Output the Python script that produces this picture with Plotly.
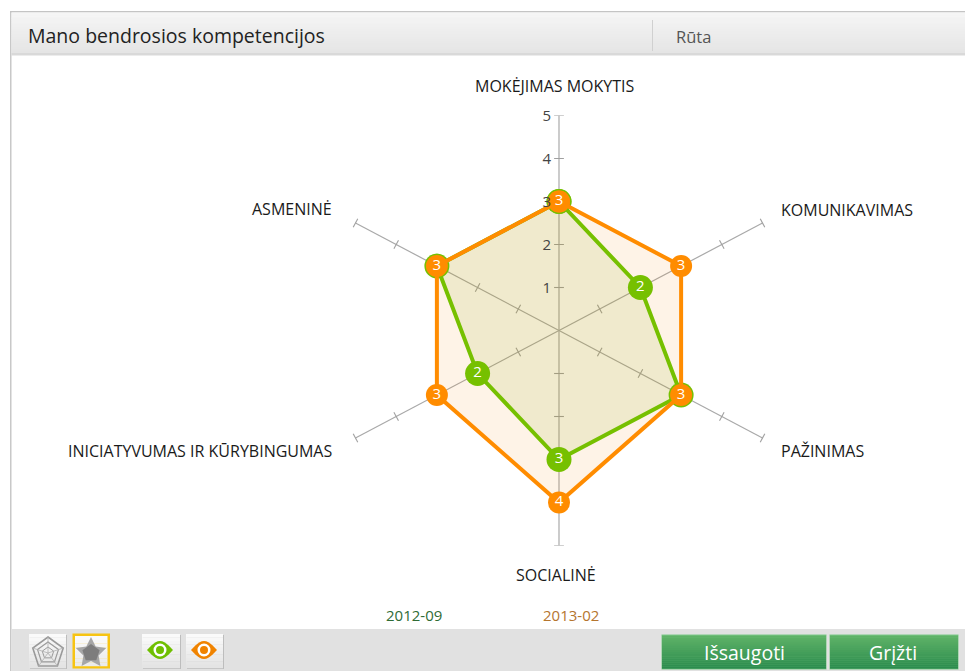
import math
import plotly.graph_objects as go

W, H = 965, 671
FONT = "Open Sans"

title_text = "Mano bendrosios kompetencijos"
user_name = "Rūta"
categories = ["MOKĖJIMAS MOKYTIS", "KOMUNIKAVIMAS", "PAŽINIMAS", "SOCIALINĖ",
              "INICIATYVUMAS IR KŪRYBINGUMAS", "ASMENINĖ"]
series_2012 = [3, 2, 3, 3, 2, 3]
series_2013 = [3, 3, 3, 4, 3, 3]
name_2012 = "2012-09"
name_2013 = "2013-02"
scale_ticks = [1, 2, 3, 4, 5]
button_labels = ["Išsaugoti", "Grįžti"]

# spoke directions, clockwise from the top
angles = [math.radians(i * 360 / len(categories)) for i in range(len(categories))]
CX, CY = 559, 330.5
UX, UY = 47.0, 43.0      # pixels per data unit (the picture is stretched sideways)


def to_xy(values):
    xs = [v * math.sin(a) for v, a in zip(values, angles)]
    ys = [v * math.cos(a) for v, a in zip(values, angles)]
    return xs + xs[:1], ys + ys[:1]


def px(x):
    return x / W


def py(y):
    return 1 - y / H


shapes = []


def rect(x0, y0, x1, y1, fill, line=None, lw=1):
    shapes.append(dict(type="rect", xref="paper", yref="paper", x0=px(x0), x1=px(x1),
                       y0=py(y0), y1=py(y1), fillcolor=fill, layer="below",
                       line=dict(color=line or "rgba(0,0,0,0)", width=lw if line else 0)))


def path(points, fill="rgba(0,0,0,0)", line=None, lw=1, close=True):
    d = "M " + " L ".join(f"{px(a):.5f},{py(b):.5f}" for a, b in points) + (" Z" if close else "")
    shapes.append(dict(type="path", xref="paper", yref="paper", path=d, fillcolor=fill,
                       layer="above", line=dict(color=line or "rgba(0,0,0,0)", width=lw if line else 0)))


def mix(c0, c1, t):
    return "rgb(" + ",".join(str(round(a + (b - a) * t)) for a, b in zip(c0, c1)) + ")"


def gradient(x0, y0, x1, y1, c0, c1, layer_steps=None):
    steps = layer_steps or int(y1 - y0)
    for i in range(steps):
        t = i / max(steps - 1, 1)
        a = y0 + (y1 - y0) * i / steps
        b = y0 + (y1 - y0) * (i + 1) / steps
        rect(x0, a, x1, b + 0.3, mix(c0, c1, t))


def eye(cx, cy, color):
    top = [(cx - 13 + 26 * i / 12, cy - 9 * math.sin(math.pi * i / 12)) for i in range(13)]
    bot = [(cx + 13 - 26 * i / 12, cy + 9 * math.sin(math.pi * i / 12)) for i in range(13)]
    path(top + bot, fill=color)
    shapes.append(dict(type="circle", xref="paper", yref="paper", x0=px(cx - 6.5), x1=px(cx + 6.5),
                       y0=py(cy + 6.5), y1=py(cy - 6.5), fillcolor="white", line=dict(width=0)))
    shapes.append(dict(type="circle", xref="paper", yref="paper", x0=px(cx - 4), x1=px(cx + 4),
                       y0=py(cy + 4), y1=py(cy - 4), fillcolor=color, line=dict(width=0)))


def pentagon(cx, cy, r):
    return [(cx + r * math.sin(2 * math.pi * i / 5), cy - r * math.cos(2 * math.pi * i / 5)) for i in range(5)]


def star(cx, cy, r_out, r_in):
    pts = []
    for i in range(10):
        r = r_out if i % 2 == 0 else r_in
        a = math.pi * i / 5
        pts.append((cx + r * math.sin(a), cy - r * math.cos(a)))
    return pts


# page frame: left rule, header band, footer band
rect(10, 11, 11.5, 671, "#c8c8c8")
rect(10, 11, 965, 12.5, "#c4c4c4")
gradient(11.5, 12.5, 965, 53, (245, 245, 245), (229, 229, 229), 20)
rect(11.5, 53, 965, 55.5, "#d9d9d9")
rect(652, 20, 653, 51, "#d0d0d0")
rect(11.5, 629, 965, 671, "#e1e1e1")

# icon buttons
for x0, x1 in [(29, 66), (142, 180), (186, 223)]:
    rect(x0 + 1, 635, x1 + 1, 669, "#bdbdbd")
    gradient(x0, 634, x1, 668, (250, 250, 250), (228, 228, 228), 10)
rect(72.5, 633.5, 110, 668.5, "#f7c412")
gradient(75, 636, 107.5, 666, (250, 250, 250), (235, 235, 235), 8)

for r, lw in [(16, 1.6), (11, 1.2), (6, 1.0)]:
    path(pentagon(48, 653, r), line="#9a9a9a", lw=lw)
for i in range(5):
    a = 2 * math.pi * i / 5
    path([(48, 653), (48 + 16 * math.sin(a), 653 - 16 * math.cos(a))], line="#b0b0b0", lw=0.8, close=False)
path(star(91, 653, 16, 8), fill="#a6a6a6")
path(pentagon(91, 653, 9), fill="#7d7d7d")
eye(160, 650, "#6fbf00")
eye(204, 650, "#f08300")

# action buttons
for x0, x1 in [(662, 826), (830, 958)]:
    rect(x0 - 0.5, 634.5, x1 + 0.5, 669.5, "#7fc98a")
    gradient(x0, 635.5, x1, 668.5, (94, 178, 103), (44, 140, 78), 16)

# spokes and their tick marks
spoke_x, spoke_y, tick_x, tick_y, tick_a = [], [], [], [], []
for a in angles:
    sx, sy = math.sin(a), math.cos(a)
    spoke_x += [0, 5 * sx, None]
    spoke_y += [0, 5 * sy, None]
    screen = math.degrees(math.atan2(sx * UX, sy * UY))
    for t in scale_ticks:
        tick_x.append(t * sx)
        tick_y.append(t * sy)
        tick_a.append(screen)

gx, gy = to_xy(series_2012)
ox, oy = to_xy(series_2013)

fig = go.Figure()
fig.add_trace(go.Scatter(x=spoke_x, y=spoke_y, mode="lines", line=dict(color="#a9a9a9", width=1.2),
                         hoverinfo="skip", showlegend=False))
fig.add_trace(go.Scatter(x=tick_x, y=tick_y, mode="markers", hoverinfo="skip", showlegend=False,
                         marker=dict(symbol="line-ew", size=7, angle=tick_a,
                                     line=dict(color="#a0a0a0", width=1.1))))
# area fills first, so that neither tints the other series' outline
fig.add_trace(go.Scatter(x=ox, y=oy, mode="none", fill="toself", hoverinfo="skip",
                         fillcolor="rgba(245,140,20,0.10)", showlegend=False))
fig.add_trace(go.Scatter(x=gx, y=gy, mode="none", fill="toself", hoverinfo="skip",
                         fillcolor="rgba(130,165,0,0.11)", showlegend=False))
fig.add_trace(go.Scatter(x=gx, y=gy, name=name_2012, mode="lines+markers+text",
                         line=dict(color="#76c000", width=4),
                         marker=dict(color="#76c000", size=25),
                         text=[str(v) for v in series_2012] + [""], textposition="middle center",
                         textfont=dict(color="white", size=15, family=FONT), showlegend=False))
fig.add_trace(go.Scatter(x=ox, y=oy, name=name_2013, mode="lines+markers+text",
                         line=dict(color="#ff8c00", width=4),
                         marker=dict(color="#ff8c00", size=22),
                         text=[str(v) for v in series_2013] + [""], textposition="middle center",
                         textfont=dict(color="white", size=15, family=FONT), showlegend=False))


def label(text, x, y, anchor="left", size=16, color="#1a1a1a"):
    return dict(text=text, x=px(x), y=py(y), xref="paper", yref="paper", showarrow=False,
                xanchor=anchor, yanchor="middle", font=dict(size=size, color=color, family=FONT))


annotations = [
    label(title_text, 26, 35, size=19.5, color="#222222"),
    label(user_name, 674, 36.5, size=16.5, color="#555555"),
    label(categories[0], 555, 86, "center"),
    label(categories[1], 779, 210),
    label(categories[2], 779, 451),
    label(categories[3], 555.5, 575, "center"),
    label(categories[4], 334, 451, "right"),
    label(categories[5], 334, 209, "right"),
    label(name_2012, 413.5, 615, "center", size=15, color="#2f6b35"),
    label(name_2013, 570.5, 615, "center", size=15, color="#b5752e"),
    label(button_labels[0], 744, 652, "center", size=19.5, color="white"),
    label(button_labels[1], 893, 652, "center", size=19.5, color="white"),
]

fig.update_layout(
    width=W, height=H, margin=dict(l=0, r=0, t=0, b=0, pad=0, autoexpand=False), autosize=False,
    paper_bgcolor="white", plot_bgcolor="rgba(0,0,0,0)", showlegend=False,
    shapes=shapes, annotations=annotations,
    xaxis=dict(domain=[px(CX - 5 * UX), px(CX + 5 * UX)],
               range=[-5, 5], visible=False, fixedrange=True),
    yaxis=dict(domain=[py(CY + 5 * UY), py(CY - 5 * UY)], range=[-5, 5],
               anchor="free", position=px(CX), showgrid=False, zeroline=False, showline=False,
               tickmode="array", tickvals=scale_ticks, ticktext=[str(t) for t in scale_ticks],
               ticks="outside", ticklen=5, tickcolor="rgba(0,0,0,0)",
               tickfont=dict(size=15, color="#444444", family=FONT), fixedrange=True),
)

page_fix = ("document.body.style.margin='0';"
            "document.documentElement.style.overflow='hidden';"
            "var gd=document.getElementById('{plot_id}');"
            "gd.style.position='fixed';gd.style.left='0';gd.style.top='0';")
fig.write_html("out.html", config=dict(displayModeBar=False), post_script=page_fix)
